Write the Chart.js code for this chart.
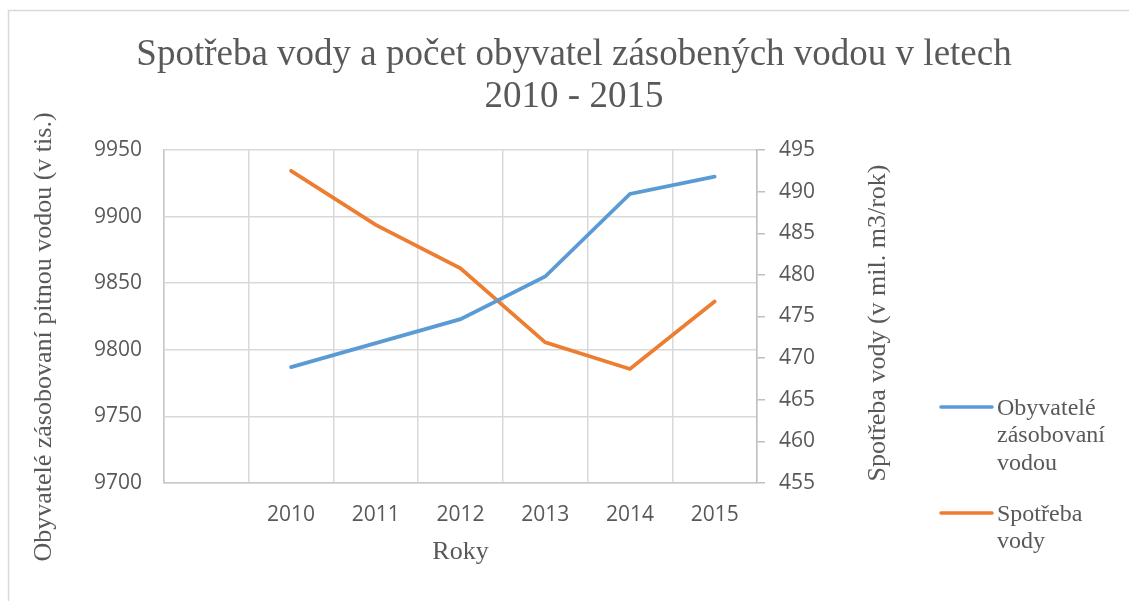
<!DOCTYPE html>
<html>
<head>
<meta charset="utf-8">
<script src="https://cdn.jsdelivr.net/npm/chart.js@4.4.1/dist/chart.umd.min.js"></script>
<style>
  body { margin: 0; background: #fff; }
</style>
</head>
<body>
<canvas id="myChart" width="1129" height="601"></canvas>
<script>
// data
const roky = ['', '2010', '2011', '2012', '2013', '2014', '2015'];
const obyvatele = [null, 9787, 9805, 9823, 9855, 9917, 9930];
const spotreba = [null, 492.5, 486.0, 480.8, 471.9, 468.7, 476.8];
const leftTicks = [9700, 9750, 9800, 9850, 9900, 9950];
const rightTicks = [455, 460, 465, 470, 475, 480, 485, 490, 495];

const gray = '#595959';
const serif = "'Liberation Serif', 'Times New Roman', serif";
const sans = "'Open Sans', 'Liberation Sans', sans-serif";

// frame, axis titles and the legend on the right
const extras = {
    id: 'extras',
    beforeDraw(chart) {
        const c = chart.ctx;
        c.save();
        c.fillStyle = '#fff';
        c.fillRect(0, 0, chart.width, chart.height);
        c.strokeStyle = '#d9d9d9';
        c.lineWidth = 1.5;
        c.strokeRect(8.5, 10.5, chart.width, chart.height);
        c.restore();
    },
    afterDraw(chart) {
        const c = chart.ctx;
        c.save();
        c.fillStyle = gray;
        c.font = '26px ' + serif;
        c.textAlign = 'center';
        c.textBaseline = 'middle';

        c.save();
        c.translate(44, 337);
        c.rotate(-Math.PI / 2);
        c.fillText('Obyvatelé zásobovaní pitnou vodou (v tis.)', 0, 0);
        c.restore();

        c.save();
        c.translate(878, 323);
        c.rotate(-Math.PI / 2);
        c.fillText('Spotřeba vody (v mil. m3/rok)', 0, 0);
        c.restore();

        // legend
        c.font = '24px ' + serif;
        c.textAlign = 'left';
        let y = 407;
        chart.data.datasets.forEach(ds => {
            const words = ds.label.split(' ');
            const lines = [];
            let cur = '';
            words.forEach(w => {
                const t = cur ? cur + ' ' + w : w;
                if (cur && c.measureText(t).width > 125) { lines.push(cur); cur = w; }
                else cur = t;
            });
            lines.push(cur);

            c.strokeStyle = ds.borderColor;
            c.lineWidth = 3.5;
            c.lineCap = 'round';
            c.beginPath();
            c.moveTo(941, y);
            c.lineTo(992, y);
            c.stroke();

            lines.forEach((l, i) => c.fillText(l, 997, y + 1.5 + i * 27.5));
            y += lines.length * 27.5 + 23.5;
        });
        c.restore();
    }
};

const ctx = document.getElementById('myChart').getContext('2d');

const myChart = new Chart(ctx, {
    type: 'line',
    data: {
        labels: roky,
        datasets: [{
            label: 'Obyvatelé zásobovaní vodou',
            data: obyvatele,
            borderColor: '#5B9BD5',
            borderWidth: 3.75,
            borderCapStyle: 'round',
            pointRadius: 0,
            tension: 0,
            yAxisID: 'y'
        }, {
            label: 'Spotřeba vody',
            data: spotreba,
            borderColor: '#ED7D31',
            borderWidth: 3.75,
            borderCapStyle: 'round',
            pointRadius: 0,
            tension: 0,
            yAxisID: 'y2'
        }]
    },
    options: {
        responsive: false,
        animation: false,
        layout: { padding: { left: 19, right: 0, top: 0, bottom: 0 } },
        plugins: {
            legend: { display: false },
            tooltip: { enabled: false },
            title: {
                display: true,
                text: ['Spotřeba vody a počet obyvatel zásobených vodou v letech', '2010 - 2015'],
                color: gray,
                font: { family: serif, size: 37, weight: 'normal', lineHeight: 42 / 37 },
                padding: { top: 34, bottom: 32 }
            }
        },
        scales: {
            x: {
                offset: true,
                grid: { offset: true, color: '#d9d9d9', lineWidth: 1.5, drawTicks: false },
                border: { color: '#c8c8c8', width: 1.5 },
                ticks: { color: gray, font: { family: sans, size: 21 }, padding: 19, maxRotation: 0 },
                title: {
                    display: true, text: 'Roky', color: gray,
                    font: { family: serif, size: 26 }, padding: { top: 0, bottom: 33 }
                },
                afterFit(s) { s.height = 118; }
            },
            y: {
                position: 'left',
                min: leftTicks[0],
                max: leftTicks[leftTicks.length - 1],
                afterBuildTicks(s) { s.ticks = leftTicks.map(v => ({ value: v })); },
                grid: { color: '#d9d9d9', lineWidth: 1.5, drawTicks: false },
                border: { color: '#c8c8c8', width: 1.5 },
                ticks: { color: gray, font: { family: sans, size: 21 }, padding: 22, callback: v => String(v) },
                afterFit(s) { s.width = 145; }
            },
            y2: {
                position: 'right',
                min: rightTicks[0],
                max: rightTicks[rightTicks.length - 1],
                afterBuildTicks(s) { s.ticks = rightTicks.map(v => ({ value: v })); },
                grid: { drawOnChartArea: false, color: '#bfbfbf', lineWidth: 1.5, tickLength: 8 },
                border: { color: '#bfbfbf', width: 1.5 },
                ticks: { color: gray, font: { family: sans, size: 21 }, padding: 14, callback: v => String(v) },
                afterFit(s) { s.width = 1129 - 757; }
            }
        }
    },
    plugins: [extras]
});
</script>
</body>
</html>
